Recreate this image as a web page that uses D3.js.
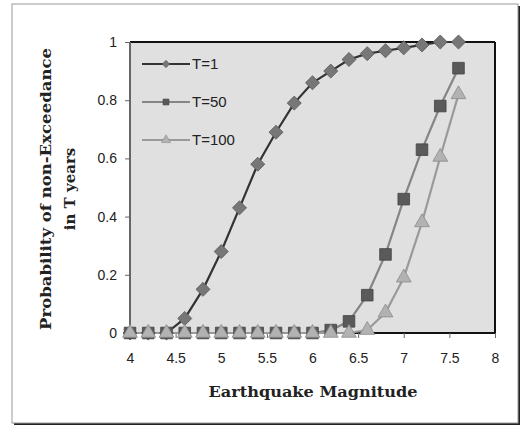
<!DOCTYPE html>
<html><head><meta charset="utf-8">
<script src="https://cdn.jsdelivr.net/npm/d3@7"></script>
<style>body{margin:0;background:#fff}svg{display:block}</style>
</head><body>
<svg id="c" width="526" height="429"></svg>
<script>
const magnitudes = [4.0,4.2,4.4,4.6,4.8,5.0,5.2,5.4,5.6,5.8,6.0,6.2,6.4,6.6,6.8,7.0,7.2,7.4,7.6];
const t1   = [0,0,0,0.05,0.15,0.28,0.43,0.58,0.69,0.79,0.86,0.90,0.94,0.96,0.97,0.98,0.99,1.0,1.0];
const t50  = [0,0,0,0,0,0,0,0,0,0,0,0.01,0.04,0.13,0.27,0.46,0.63,0.78,0.91];
const t100 = [0,0,0,0,0,0,0,0,0,0,0,0,0,0.01,0.07,0.19,0.38,0.605,0.82];
const seriesNames = ["T=1","T=50","T=100"];
const xTicks = [4,4.5,5,5.5,6,6.5,7,7.5,8];
const yTicks = [0,0.2,0.4,0.6,0.8,1];

const svg = d3.select("#c");
// outer frame
svg.append("rect").attr("x",14).attr("y",6).attr("width",506).attr("height",419).attr("fill","#222");
svg.append("rect").attr("x",12).attr("y",4).attr("width",506).attr("height",419).attr("fill","#fff").attr("stroke","#999").attr("stroke-width",1);

const L=130,R=495,T=42,B=333;
const x = d3.scaleLinear().domain([4,8]).range([L,R]);
const y = d3.scaleLinear().domain([0,1]).range([B,T]);

svg.append("rect").attr("x",L).attr("y",T).attr("width",R-L).attr("height",B-T).attr("fill","#e0e0e0");
// plot border
svg.append("line").attr("x1",L).attr("x2",R).attr("y1",T).attr("y2",T).attr("stroke","#111").attr("stroke-width",2);
svg.append("line").attr("x1",R).attr("x2",R).attr("y1",T).attr("y2",B).attr("stroke","#111").attr("stroke-width",2);
svg.append("line").attr("x1",L).attr("x2",R).attr("y1",B).attr("y2",B).attr("stroke","#111").attr("stroke-width",2);
svg.append("line").attr("x1",L).attr("x2",L).attr("y1",T).attr("y2",B).attr("stroke","#666").attr("stroke-width",2);

const tickFont = "Liberation Sans, Arial, sans-serif";
const yAxis = svg.append("g").attr("transform",`translate(${L},0)`)
  .call(d3.axisLeft(y).tickValues(yTicks).tickSize(5).tickPadding(8).tickFormat(d=>d3.format("")(d)));
yAxis.select(".domain").remove();
yAxis.selectAll("line").attr("stroke","#666");
yAxis.selectAll("text").attr("font-family",tickFont).attr("font-size",14).attr("fill","#222");

const xAxis = svg.append("g").attr("transform",`translate(0,${B})`)
  .call(d3.axisBottom(x).tickValues(xTicks).tickSize(5).tickPadding(15).tickFormat(d=>d3.format("")(d)));
xAxis.select(".domain").remove();
xAxis.selectAll("line").attr("stroke","#666");
xAxis.selectAll("text").attr("font-family",tickFont).attr("font-size",14).attr("fill","#222");

const series = [
  {name:seriesNames[0], vals:t1,   line:"#333", fill:"#777", stroke:"#555", sym:d3.symbolDiamond2, size:125},
  {name:seriesNames[1], vals:t50,  line:"#858585", fill:"#5a5a5a", stroke:"#444", sym:d3.symbolSquare, size:135},
  {name:seriesNames[2], vals:t100, line:"#9a9a9a", fill:"#b2b2b2", stroke:"#8a8a8a", sym:d3.symbolTriangle, size:95},
];
const line = d3.line().x((d,i)=>x(magnitudes[i])).y(d=>y(d));
series.forEach(s=>{
  svg.append("path").attr("d",line(s.vals)).attr("fill","none").attr("stroke",s.line).attr("stroke-width",2.2);
});
series.forEach(s=>{
  svg.append("g").selectAll("path").data(s.vals).join("path")
    .attr("transform",(d,i)=>`translate(${x(magnitudes[i])},${y(d)})`)
    .attr("d",d3.symbol().type(s.sym).size(s.size))
    .attr("fill",s.fill).attr("stroke",s.stroke).attr("stroke-width",0.8);
});

// legend
const lg = svg.append("g");
series.forEach((s,i)=>{
  const ly = 64 + i*38;
  lg.append("line").attr("x1",142).attr("x2",190).attr("y1",ly).attr("y2",ly).attr("stroke",s.line).attr("stroke-width",2.2);
  lg.append("path").attr("transform",`translate(166,${ly})`).attr("d",d3.symbol().type(s.sym).size(35))
    .attr("fill",s.fill).attr("stroke",s.stroke).attr("stroke-width",0.6);
  lg.append("text").attr("x",192).attr("y",ly+5).text(s.name)
    .attr("font-family",tickFont).attr("font-size",15).attr("fill","#222");
});

// titles
const tf = "DejaVu Serif, Liberation Serif, serif";
svg.append("text").attr("transform","translate(51,189) rotate(-90)").attr("text-anchor","middle")
  .attr("font-family",tf).attr("font-weight","bold").attr("font-size",15).attr("fill","#222")
  .attr("textLength",282).attr("lengthAdjust","spacingAndGlyphs")
  .text("Probability of non-Exceedance");
svg.append("text").attr("transform","translate(75,189) rotate(-90)").attr("text-anchor","middle")
  .attr("font-family",tf).attr("font-weight","bold").attr("font-size",15).attr("fill","#222")
  .text("in T years");
svg.append("text").attr("x",313).attr("y",397).attr("text-anchor","middle")
  .attr("font-family",tf).attr("font-weight","bold").attr("font-size",15).attr("fill","#222")
  .attr("textLength",209).attr("lengthAdjust","spacingAndGlyphs")
  .text("Earthquake Magnitude");
</script>
</body></html>
